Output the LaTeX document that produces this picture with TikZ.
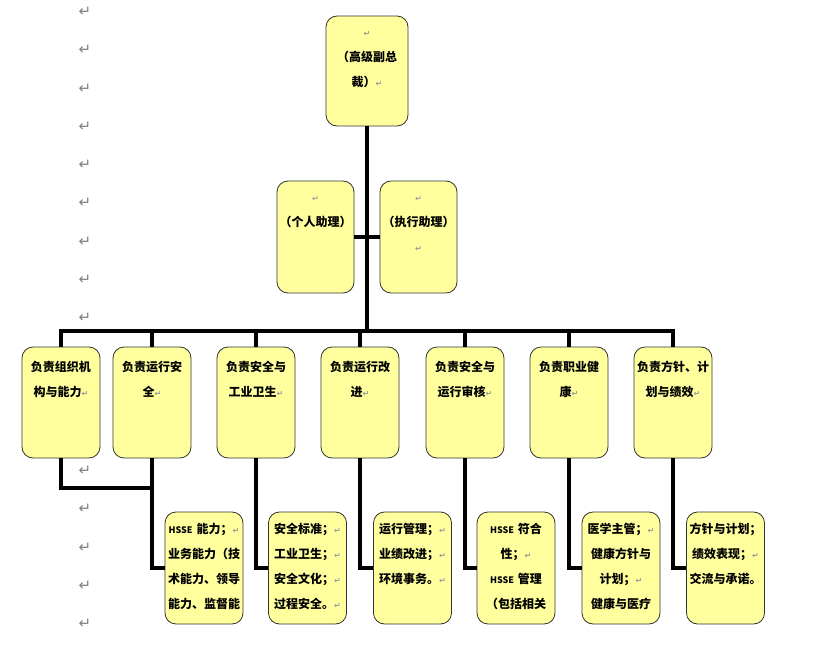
\documentclass[tikz,border=0pt]{standalone}
\usepackage{fontspec}
\newfontfamily\cjk{Noto Sans CJK SC}
\newfontfamily\dejavu{DejaVu Sans}
\usetikzlibrary{positioning}
\definecolor{boxfill}{RGB}{255,255,158}
\newcommand{\pmark}{{\dejavu\fontsize{8}{8}\selectfont\textcolor{black!40}{↵}}}
\newcommand{\hsse}{{\fontsize{9}{9}\selectfont HSSE}}

\begin{document}
\begin{tikzpicture}[x=1pt, y=-1pt, box/.style={draw=black!80, line width=0.8pt, fill=boxfill, rounded corners=11pt, minimum width=78pt, minimum height=111pt, inner sep=0pt}, txt/.style={text width=78pt, align=center, inner sep=0pt, font=\cjk\bfseries\fontsize{12}{25}\selectfont}, link/.style={line width=3.4pt}, pmk/.style={text=black!50, font=\dejavu\fontsize{15}{15}\selectfont, inner sep=0pt}]
\useasboundingbox (0,0) rectangle (830,658);

\foreach \k in {0,...,8,12,13,...,16}
    \node[pmk] (margin\k) at (85,{12+38.25*\k}) {↵};

\node[box, minimum width=82pt, minimum height=110pt] (vp) at (367,71) {};
\node[box, minimum width=77pt, minimum height=112pt] (pa) at (315.5,237) {};
\node[box, minimum width=77pt, minimum height=112pt] (ea) at (418.5,237) {};

\node[box] (org) at (61,402.5) {};
\node[box] (opsafe) at (152,402.5) {};
\node[box] (safety) at (256,402.5) {};
\node[box] (opimp) at (360,402.5) {};
\node[box] (audit) at (465,402.5) {};
\node[box] (health) at (569,402.5) {};
\node[box] (policy) at (673,402.5) {};

\node[box, minimum height=112pt] (hsse) at (204,568) {};
\node[box, minimum height=112pt] (stds) at (307.5,568) {};
\node[box, minimum height=112pt] (mgmt) at (412.5,568) {};
\node[box, minimum height=112pt] (comply) at (516,568) {};
\node[box, minimum height=112pt] (medic) at (621,568) {};
\node[box, minimum height=112pt] (plans) at (725.5,568) {};

\node[txt, below=16pt of vp.north] (vp-t) {\pmark\\（高级副总\\裁）\pmark};
\node[txt, below=16pt of pa.north] (pa-t) {\pmark\\（个人助理）};
\node[txt, below=16pt of ea.north] (ea-t) {\pmark\\（执行助理）\\\pmark};

\node[txt, below=14pt of org.north] (org-t) {负责组织机\\构与能力\pmark};
\node[txt, below=14pt of opsafe.north] (opsafe-t) {负责运行安\\全\pmark};
\node[txt, below=14pt of safety.north] (safety-t) {负责安全与\\工业卫生\pmark};
\node[txt, below=14pt of opimp.north] (opimp-t) {负责运行改\\进\pmark};
\node[txt, below=14pt of audit.north] (audit-t) {负责安全与\\运行审核\pmark};
\node[txt, below=14pt of health.north] (health-t) {负责职业健\\康\pmark};
\node[txt, below=14pt of policy.north] (policy-t) {负责方针、计\\划与绩效\pmark};

\node[txt, below=11pt of hsse.north] (hsse-t) {\hsse~能力；\pmark\\业务能力（技\\术能力、领导\\能力、监督能};
\node[txt, below=11pt of stds.north] (stds-t) {安全标准；\pmark\\工业卫生；\pmark\\安全文化；\pmark\\过程安全。\pmark};
\node[txt, below=11pt of mgmt.north] (mgmt-t) {运行管理；\pmark\\业绩改进；\pmark\\环境事务。\pmark};
\node[txt, below=11pt of comply.north] (comply-t) {\hsse~符合\\性；\pmark\\\hsse~管理\\（包括相关};
\node[txt, below=11pt of medic.north] (medic-t) {医学主管；\pmark\\健康方针与\\计划；\pmark\\健康与医疗};
\node[txt, below=11pt of plans.north] (plans-t) {方针与计划；\\绩效表现；\pmark\\交流与承诺。};

\coordinate (bar) at (367,331);
\coordinate (join) at (152,488);

\draw[link] (vp.south) -- (bar);
\draw[link] (pa.east) -- (ea.west);
\draw[link] (org.north) |- (bar) -| (policy.north);
\draw[link] (opsafe.north) -- (opsafe.north |- bar);
\draw[link] (safety.north) -- (safety.north |- bar);
\draw[link] (opimp.north) -- (opimp.north |- bar);
\draw[link] (audit.north) -- (audit.north |- bar);
\draw[link] (health.north) -- (health.north |- bar);

\draw[link] (org.south) |- (join);
\draw[link] (opsafe.south) |- (hsse.west);
\draw[link] (safety.south) |- (stds.west);
\draw[link] (opimp.south) |- (mgmt.west);
\draw[link] (audit.south) |- (comply.west);
\draw[link] (health.south) |- (medic.west);
\draw[link] (policy.south) |- (plans.west);

\end{tikzpicture}
\end{document}
